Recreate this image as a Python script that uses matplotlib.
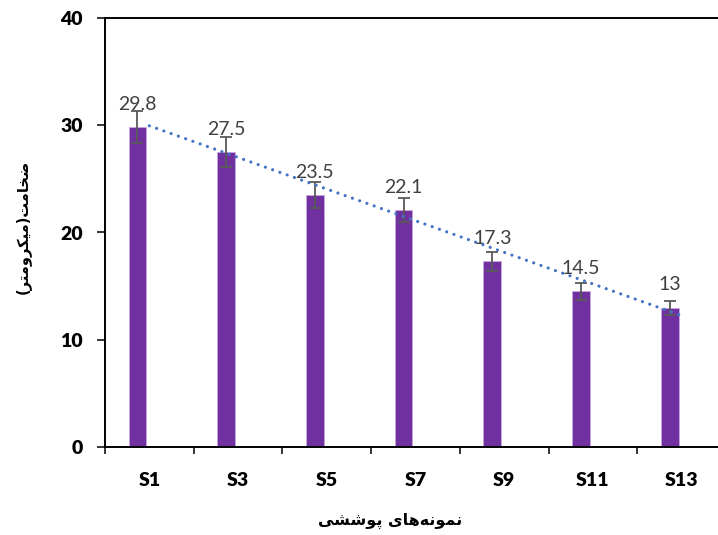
import numpy as np
import matplotlib
matplotlib.use("Agg")
import matplotlib.pyplot as plt
from matplotlib.ticker import FixedLocator

samples = ["S1", "S3", "S5", "S7", "S9", "S11", "S13"]
thickness = [29.8, 27.5, 23.5, 22.1, 17.3, 14.5, 13.0]
thickness_err = [1.5, 1.4, 1.2, 1.1, 0.85, 0.75, 0.65]

y_title = "ضخامت(میکرومتر)"
x_title = "نمونه\u200cهای پوششی"

# presentation forms: isolated, final, initial, medial (None -> letter only joins to the right)
FORMS = {
    "ا": (0xFE8D, 0xFE8E, None, None),
    "ت": (0xFE95, 0xFE96, 0xFE97, 0xFE98),
    "خ": (0xFEA5, 0xFEA6, 0xFEA7, 0xFEA8),
    "ر": (0xFEAD, 0xFEAE, None, None),
    "ش": (0xFEB5, 0xFEB6, 0xFEB7, 0xFEB8),
    "ض": (0xFEBD, 0xFEBE, 0xFEBF, 0xFEC0),
    "م": (0xFEE1, 0xFEE2, 0xFEE3, 0xFEE4),
    "ن": (0xFEE5, 0xFEE6, 0xFEE7, 0xFEE8),
    "ه": (0xFEE9, 0xFEEA, 0xFEEB, 0xFEEC),
    "و": (0xFEED, 0xFEEE, None, None),
    "ی": (0xFBFC, 0xFBFD, 0xFBFE, 0xFBFF),
    "ک": (0xFB8E, 0xFB8F, 0xFB90, 0xFB91),
    "پ": (0xFB56, 0xFB57, 0xFB58, 0xFB59),
}
MIRROR = {"(": ")", ")": "("}


def shape_rtl(text):
    # join letters by hand and reverse to visual order, since Agg does no shaping
    out = []
    for i, ch in enumerate(text):
        if ch not in FORMS:
            out.append(ch)
            continue
        prev = text[i - 1] if i > 0 else ""
        nxt = text[i + 1] if i + 1 < len(text) else ""
        join_prev = prev in FORMS and FORMS[prev][2] is not None
        join_next = FORMS[ch][2] is not None and nxt in FORMS
        iso, fin, ini, med = FORMS[ch]
        if join_prev and join_next:
            code = med
        elif join_prev:
            code = fin
        elif join_next:
            code = ini
        else:
            code = iso
        out.append(chr(code))
    out = [c for c in out if c != "\u200c"]
    return "".join(MIRROR.get(c, c) for c in reversed(out))


purple = "#7030A0"
trend_blue = "#4472C4"
err_grey = "#595959"
label_grey = "#404040"

fig = plt.figure(figsize=(7.18, 5.35), dpi=100)
ax = fig.add_axes([105 / 718, 88 / 535, 621 / 718, 429 / 535])

x = np.arange(1, len(samples) + 1)
bar_x = x - 0.135
ax.bar(bar_x, thickness, width=0.2, color=purple, edgecolor="#C8A8E0",
       linewidth=0.6, zorder=2)
ax.errorbar(bar_x, thickness, yerr=thickness_err, fmt="none", ecolor=err_grey,
            elinewidth=1.3, capsize=4.3, capthick=1.3, zorder=3)

for xi, v in zip(bar_x, thickness):
    ax.annotate(f"{v:g}", (xi, v), xytext=(0, 12.3), textcoords="offset points",
                ha="center", va="baseline", fontsize=14, family="Lato",
                color=label_grey, zorder=4)

# linear trend line over the category positions
slope, intercept = np.polyfit(x, thickness, 1)
ax.plot(x, slope * x + intercept, color=trend_blue, lw=2.3,
        linestyle=(0, (0.01, 2.4)), dash_capstyle="round", zorder=5)

ax.set_xlim(0.5, len(samples) + 0.5)
ax.set_ylim(0, 40)
ax.set_yticks([0, 10, 20, 30, 40])
ax.set_xticks(x)
ax.set_xticklabels(samples)
ax.xaxis.set_minor_locator(FixedLocator(np.arange(0.5, len(samples) + 1, 1)))

ax.tick_params(axis="x", which="major", length=0, pad=18)
ax.tick_params(axis="x", which="minor", length=5, width=1.1, direction="out")
ax.tick_params(axis="y", length=6, width=1.1, direction="out", pad=10)
for lab in ax.get_xticklabels() + ax.get_yticklabels():
    lab.set_fontfamily("Lato")
    lab.set_fontweight("heavy")
    lab.set_fontsize(14)

for side in ["left", "top", "bottom"]:
    ax.spines[side].set_linewidth(1.4)
    ax.spines[side].set_color("black")
ax.spines["right"].set_visible(False)

fig.text(23 / 718, 1 - 227 / 535, shape_rtl(y_title), rotation=90,
         ha="center", va="center", fontsize=10.5, fontweight="bold",
         family="DejaVu Sans")
fig.text(390 / 718, 1 - 521 / 535, shape_rtl(x_title),
         ha="center", va="center", fontsize=11.5, fontweight="bold",
         family="DejaVu Sans")

fig.savefig("out.png", dpi=100)
